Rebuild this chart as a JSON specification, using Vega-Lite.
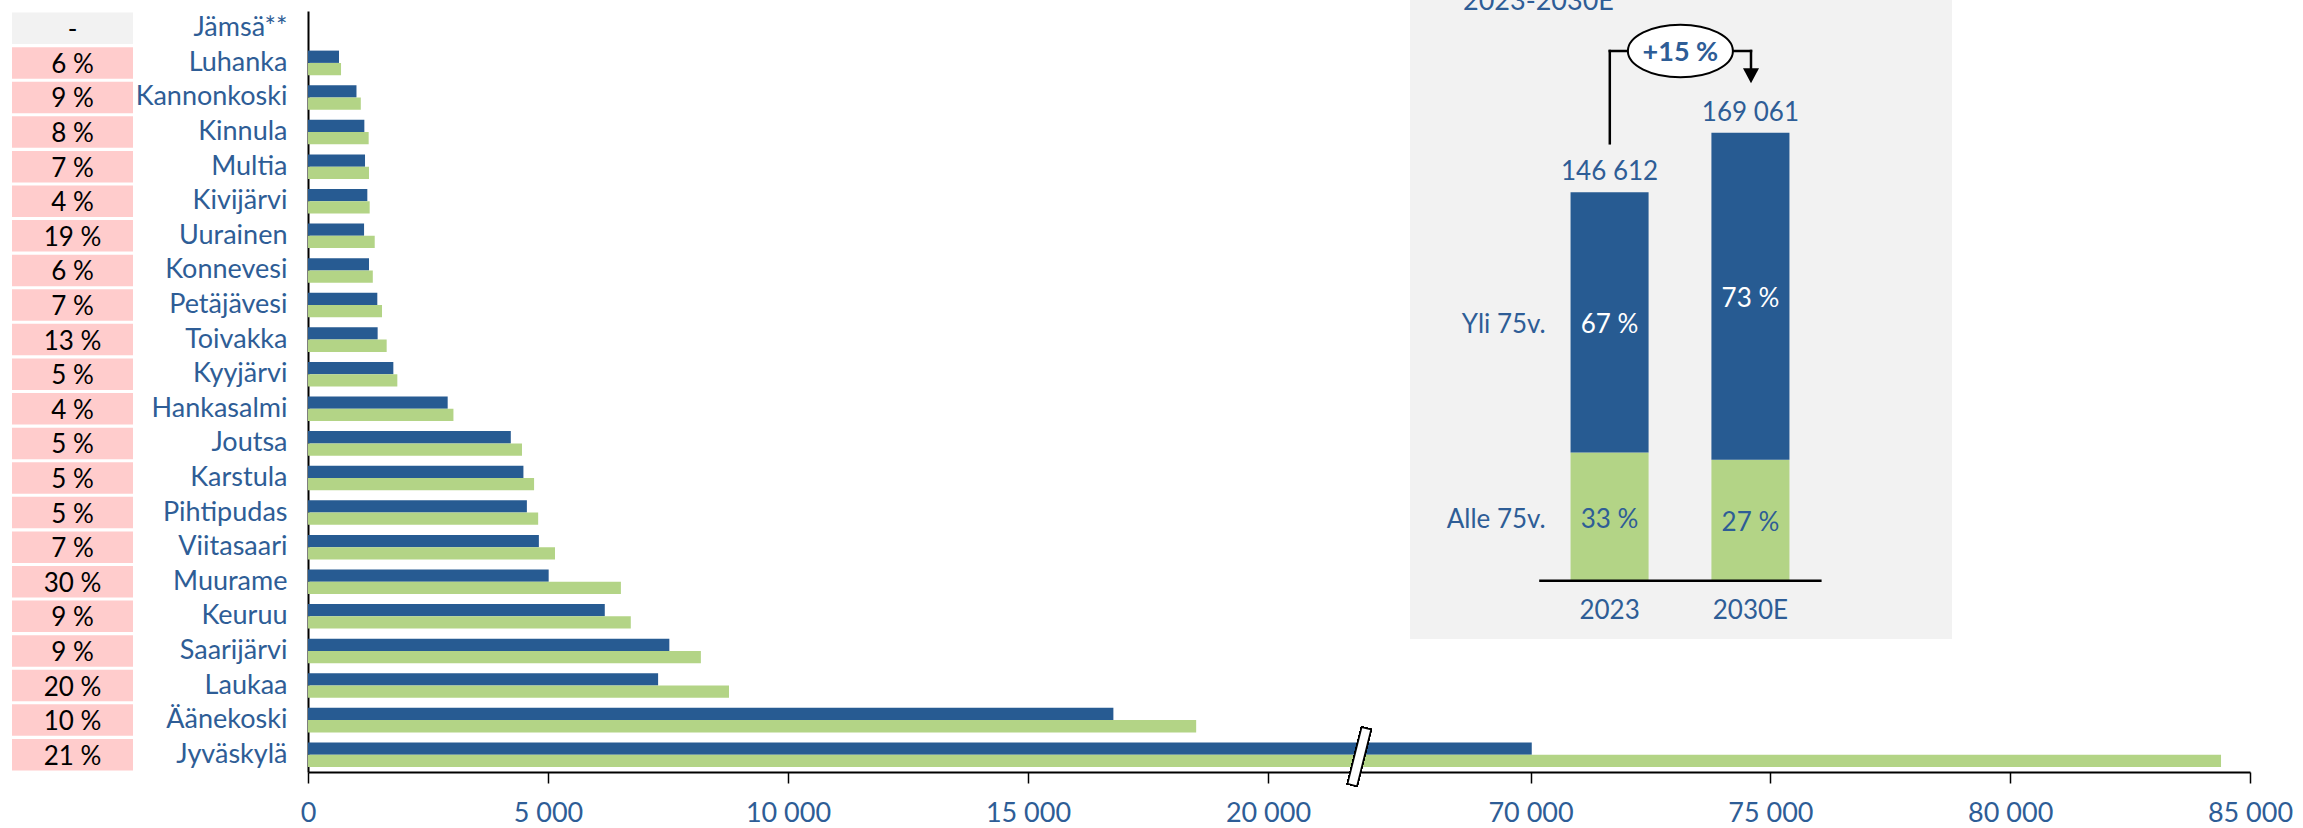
{
  "$schema": "https://vega.github.io/schema/vega-lite/v6.json",
  "width": 1942,
  "height": 761,
  "autosize": {"type": "none"},
  "padding": {"left": 308, "top": 11, "right": 53, "bottom": 56},
  "background": "white",
  "config": {
    "view": {"stroke": null},
    "font": "Lato",
    "locale": {"number": {"decimal": ",", "thousands": "\u00a0", "grouping": [3], "currency": ["", "\u00a0€"]}},
    "axis": {"grid": false}
  },
  "datasets": {
    "munis": [
      {"name": "Jämsä**", "pct": "-", "2023": null, "2030E": null},
      {"name": "Luhanka", "pct": "6 %", "2023": 646, "2030E": 688},
      {"name": "Kannonkoski", "pct": "9 %", "2023": 1010, "2030E": 1100},
      {"name": "Kinnula", "pct": "8 %", "2023": 1174, "2030E": 1264},
      {"name": "Multia", "pct": "7 %", "2023": 1188, "2030E": 1271},
      {"name": "Kivijärvi", "pct": "4 %", "2023": 1236, "2030E": 1285},
      {"name": "Uurainen", "pct": "19 %", "2023": 1168, "2030E": 1390},
      {"name": "Konnevesi", "pct": "6 %", "2023": 1271, "2030E": 1350},
      {"name": "Petäjävesi", "pct": "7 %", "2023": 1444, "2030E": 1542},
      {"name": "Toivakka", "pct": "13 %", "2023": 1451, "2030E": 1639},
      {"name": "Kyyjärvi", "pct": "5 %", "2023": 1778, "2030E": 1861},
      {"name": "Hankasalmi", "pct": "4 %", "2023": 2910, "2030E": 3030},
      {"name": "Joutsa", "pct": "5 %", "2023": 4225, "2030E": 4458},
      {"name": "Karstula", "pct": "5 %", "2023": 4488, "2030E": 4710},
      {"name": "Pihtipudas", "pct": "5 %", "2023": 4560, "2030E": 4795},
      {"name": "Viitasaari", "pct": "7 %", "2023": 4810, "2030E": 5146},
      {"name": "Muurame", "pct": "30 %", "2023": 5014, "2030E": 6519},
      {"name": "Keuruu", "pct": "9 %", "2023": 6183, "2030E": 6725},
      {"name": "Saarijärvi", "pct": "9 %", "2023": 7528, "2030E": 8185},
      {"name": "Laukaa", "pct": "20 %", "2023": 7294, "2030E": 8771},
      {"name": "Äänekoski", "pct": "10 %", "2023": 16779, "2030E": 18504},
      {"name": "Jyväskylä", "pct": "21 %", "2023": 70025, "2030E": 84396}
    ],
    "inset": [
      {"year": "2023", "group": "Alle 75v.", "value": 48382, "pct": "33 %"},
      {"year": "2023", "group": "Yli 75v.", "value": 98230, "pct": "67 %"},
      {"year": "2030E", "group": "Alle 75v.", "value": 45646, "pct": "27 %"},
      {"year": "2030E", "group": "Yli 75v.", "value": 123415, "pct": "73 %"}
    ]
  },
  "resolve": {"scale": {"x": "independent", "y": "independent", "color": "independent"}},
  "layer": [
    {
      "data": {"name": "munis"},
      "layer": [
        {
          "transform": [{"fold": ["2023", "2030E"], "as": ["year", "value"]}],
          "mark": {"type": "bar"},
          "encoding": {
            "y": {
              "field": "name", "type": "nominal",
              "scale": {"domain": ["Jämsä**","Luhanka","Kannonkoski","Kinnula","Multia","Kivijärvi","Uurainen","Konnevesi","Petäjävesi","Toivakka","Kyyjärvi","Hankasalmi","Joutsa","Karstula","Pihtipudas","Viitasaari","Muurame","Keuruu","Saarijärvi","Laukaa","Äänekoski","Jyväskylä"], "paddingInner": 0.29, "paddingOuter": 0.145},
              "axis": {"title": null, "domainColor": "black", "domainWidth": 2, "ticks": false, "tickSize": 0, "labelPadding": 21, "labelFontSize": 27, "labelFont": "Lato", "labelColor": "#2E5D96", "labelLimit": 400}
            },
            "yOffset": {"field": "year", "type": "nominal", "scale": {"domain": ["2023", "2030E"], "paddingInner": 0, "paddingOuter": 0}},
            "x": {
              "field": "value", "type": "quantitative",
              "scale": {"domain": [0, 21917, 66444, 85000], "range": [0, 1052, 1052, 1942], "nice": false, "zero": false},
              "axis": {"title": null, "values": [0, 5000, 10000, 15000, 20000, 70000, 75000, 80000, 85000], "format": ",.0f", "domainColor": "black", "domainWidth": 2, "tickColor": "black", "tickWidth": 1.5, "tickSize": 11, "labelPadding": 17, "labelFontSize": 27, "labelFont": "Lato", "labelColor": "#2E5D96", "labelFlush": false, "labelOverlap": false}
            },
            "color": {"field": "year", "type": "nominal", "scale": {"domain": ["2023", "2030E"], "range": ["#275B92", "#B3D486"]}, "legend": null}
          }
        },
        {
          "mark": {"type": "text", "text": "▎", "font": "DejaVu Sans", "fontSize": 49, "angle": 14, "fill": "white", "stroke": "black", "strokeWidth": 1.5, "baseline": "middle", "align": "left", "dx": -4.5, "dy": 4},
          "encoding": {
            "x": {"datum": 21917, "type": "quantitative"},
            "y": {"datum": "Jyväskylä", "type": "nominal"}
          }
        }
      ]
    },
    {
      "data": {"name": "munis"},
      "layer": [
        {
          "mark": {"type": "rect"},
          "encoding": {
            "y": {"field": "name", "type": "nominal", "scale": {"domain": ["Jämsä**","Luhanka","Kannonkoski","Kinnula","Multia","Kivijärvi","Uurainen","Konnevesi","Petäjävesi","Toivakka","Kyyjärvi","Hankasalmi","Joutsa","Karstula","Pihtipudas","Viitasaari","Muurame","Keuruu","Saarijärvi","Laukaa","Äänekoski","Jyväskylä"], "paddingInner": 0.09, "paddingOuter": 0.045}, "axis": null},
            "x": {"datum": "pct", "type": "nominal", "scale": {"range": [-296, -175], "paddingInner": 0, "paddingOuter": 0}, "axis": null},
            "color": {"condition": {"test": "datum.pct === '-'", "value": "#F2F2F2"}, "value": "#FFCCCC"}
          }
        },
        {
          "mark": {"type": "text", "fontSize": 26, "color": "black", "baseline": "middle", "dy": 2},
          "encoding": {
            "y": {"field": "name", "type": "nominal"},
            "x": {"datum": "pct", "type": "nominal"},
            "text": {"field": "pct"}
          }
        }
      ]
    },
    {
      "data": {"values": [{}]},
      "layer": [
        {
          "mark": {"type": "rect", "color": "#F2F2F2"},
          "encoding": {
            "x": {"datum": 0, "type": "quantitative", "scale": {"domain": [0, 1], "range": [1102, 1644], "nice": false, "zero": false}, "axis": null},
            "x2": {"datum": 1},
            "y": {"datum": 0, "type": "quantitative", "scale": {"domain": [0, 1], "range": [628, -11], "nice": false, "zero": false}, "axis": null},
            "y2": {"datum": 1}
          }
        },
        {
          "mark": {"type": "text", "text": "2023-2030E", "align": "left", "baseline": "alphabetic", "dx": 53, "dy": 10, "fontSize": 27, "color": "#2E5D96"},
          "encoding": {
            "x": {"datum": 0, "type": "quantitative"},
            "y": {"datum": 1, "type": "quantitative"}
          }
        }
      ]
    },
    {
      "data": {"name": "inset"},
      "layer": [
        {
          "mark": {"type": "bar"},
          "encoding": {
            "x": {"field": "year", "type": "nominal", "scale": {"domain": ["2023", "2030E"], "range": [1231, 1513], "paddingInner": 0.446, "paddingOuter": 0.224}, "axis": null},
            "y": {"field": "value", "type": "quantitative", "stack": "zero", "scale": {"domain": [0, 215000], "range": [569.7, 0], "nice": false, "zero": false}, "axis": null},
            "color": {"field": "group", "type": "nominal", "scale": {"domain": ["Alle 75v.", "Yli 75v."], "range": ["#B3D486", "#275B92"]}, "legend": null},
            "order": {"field": "group", "sort": "ascending"}
          }
        },
        {
          "transform": [
            {"stack": "value", "groupby": ["year"], "sort": [{"field": "group", "order": "ascending"}], "as": ["v0", "v1"]},
            {"calculate": "(datum.v0 + datum.v1) / 2", "as": "mid"}
          ],
          "mark": {"type": "text", "fontSize": 26, "baseline": "middle", "dy": 3},
          "encoding": {
            "x": {"field": "year", "type": "nominal"},
            "y": {"field": "mid", "type": "quantitative"},
            "text": {"field": "pct"},
            "color": {"condition": {"test": "datum.group === 'Yli 75v.'", "value": "white"}, "value": "#2E5D96"}
          }
        },
        {
          "transform": [
            {"stack": "value", "groupby": ["year"], "sort": [{"field": "group", "order": "ascending"}], "as": ["v0", "v1"]},
            {"calculate": "(datum.v0 + datum.v1) / 2", "as": "mid"},
            {"filter": "datum.year === '2023'"}
          ],
          "mark": {"type": "text", "fontSize": 26, "baseline": "middle", "dy": 3, "align": "right", "dx": -63.8, "color": "#2E5D96"},
          "encoding": {
            "x": {"field": "year", "type": "nominal"},
            "y": {"field": "mid", "type": "quantitative"},
            "text": {"field": "group"}
          }
        },
        {
          "mark": {"type": "text", "fontSize": 26, "baseline": "alphabetic", "dy": -12, "color": "#2E5D96"},
          "encoding": {
            "x": {"field": "year", "type": "nominal"},
            "y": {"aggregate": "sum", "field": "value", "type": "quantitative"},
            "text": {"aggregate": "sum", "field": "value", "type": "quantitative", "format": ",.0f"}
          }
        },
        {
          "transform": [{"filter": "datum.group === 'Alle 75v.'"}],
          "mark": {"type": "text", "fontSize": 26, "baseline": "middle", "dy": 30, "color": "#2E5D96"},
          "encoding": {
            "x": {"field": "year", "type": "nominal"},
            "y": {"datum": 0, "type": "quantitative"},
            "text": {"field": "year"}
          }
        }
      ]
    },
    {
      "data": {"values": [{}]},
      "layer": [
        {
          "mark": {"type": "rule", "strokeWidth": 2.5, "color": "black"},
          "encoding": {
            "x": {"datum": "left", "type": "nominal", "scale": {"type": "point", "domain": ["left", "2023", "+15 %", "2030E", "right"], "range": [1231.2, 1513.6], "padding": 0}, "axis": null},
            "x2": {"datum": "right"},
            "y": {"datum": 0, "type": "quantitative", "scale": {"domain": [0, 215000], "range": [569.7, 0], "nice": false, "zero": false}, "axis": null}
          }
        },
        {
          "mark": {"type": "rule", "strokeWidth": 2.5, "color": "black", "strokeCap": "square"},
          "encoding": {
            "x": {"datum": "2023", "type": "nominal"},
            "y": {"datum": 165070, "type": "quantitative"},
            "y2": {"datum": 199900}
          }
        },
        {
          "mark": {"type": "rule", "strokeWidth": 2.5, "color": "black", "strokeCap": "square"},
          "encoding": {
            "x": {"datum": "2023", "type": "nominal"},
            "x2": {"datum": "2030E"},
            "y": {"datum": 199900, "type": "quantitative"}
          }
        },
        {
          "mark": {"type": "rule", "strokeWidth": 2.5, "color": "black", "strokeCap": "square"},
          "encoding": {
            "x": {"datum": "2030E", "type": "nominal"},
            "y": {"datum": 199900, "type": "quantitative"},
            "y2": {"datum": 192500}
          }
        },
        {
          "mark": {"type": "point", "shape": "M-1,-0.94L1,-0.94L0,0.94Z", "size": 256, "filled": true, "color": "black", "opacity": 1},
          "encoding": {
            "x": {"datum": "2030E", "type": "nominal"},
            "y": {"datum": 190540, "type": "quantitative"}
          }
        },
        {
          "mark": {"type": "point", "shape": "M-1,0C-1,-0.276,-0.5523,-0.5,0,-0.5C0.5523,-0.5,1,-0.276,1,0C1,0.276,0.5523,0.5,0,0.5C-0.5523,0.5,-1,0.276,-1,0Z", "size": 11025, "fill": "white", "stroke": "black", "strokeWidth": 2, "fillOpacity": 1, "strokeOpacity": 1, "opacity": 1},
          "encoding": {
            "x": {"datum": "+15 %", "type": "nominal"},
            "y": {"datum": 199900, "type": "quantitative"}
          }
        },
        {
          "mark": {"type": "text", "text": "+15 %", "fontSize": 27, "fontWeight": "bold", "color": "#2E5D96", "baseline": "middle", "dy": 2},
          "encoding": {
            "x": {"datum": "+15 %", "type": "nominal"},
            "y": {"datum": 199900, "type": "quantitative"}
          }
        }
      ]
    }
  ]
}
